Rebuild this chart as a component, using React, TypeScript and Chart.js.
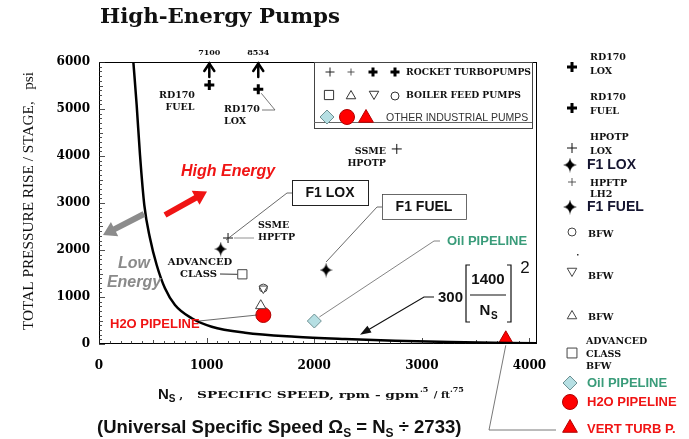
import React, { useEffect, useRef } from 'react';
import { Chart, registerables } from 'chart.js';
import { drawPoint } from 'chart.js/helpers';

Chart.register(...registerables);

// ---- data ----
// curve labelled 300*(1400/Ns)^2
const curveNs = [319, 350, 381, 421, 474, 536, 613, 706, 862, 1047, 1357, 1822, 2286, 2751, 3262, 4070];
const curvePsi = [6006, 5085, 4021, 2957, 2249, 1681, 1185, 830, 547, 368, 240, 155, 106, 70, 43, 15];

const xTicks = [0, 1000, 2000, 3000, 4000];
const yTicks = [0, 1000, 2000, 3000, 4000, 5000, 6000];

// rocket turbopumps
const rd170Ns = [1025, 1480];
const rd170Psi = [5510, 5420];
const rd170TrueLabels = ['7100', '8534'];
const ssmeNs = [2767, 1199];
const ssmePsi = [4150, 2255];
const f1Ns = [1131, 2110];
const f1Psi = [2021, 1574];
// boiler feed pumps
const advNs = [1332];
const advPsi = [1483];
const bfwCircleNs = [1527];
const bfwCirclePsi = [1190];
const bfwInvNs = [1527];
const bfwInvPsi = [1180];
const bfwTriNs = [1503];
const bfwTriPsi = [815];
// other industrial pumps
const h2oNs = [1527];
const h2oPsi = [617];
const oilNs = [2001];
const oilPsi = [489];
const vertNs = [3780];
const vertPsi = [100];

const pts = (xs: number[], ys: number[]) => xs.map((x, i) => ({ x, y: ys[i] }));

const SERIF = "'DejaVu Serif', serif";
const TSERIF = "'Liberation Serif', serif";
const SANS = "'Liberation Sans', Arial, sans-serif";
const RED = '#f01414';
const GREEN = '#3a9c7a';
const GRAYTXT = '#8a8a8a';
const DIAMOND_FILL = '#b6dfe3';
const DIAMOND_STROKE = '#6e9092';

function makeStar(w: number, h: number) {
  const c = document.createElement('canvas');
  c.width = w;
  c.height = h;
  const g = c.getContext('2d')!;
  const cx = w / 2, cy = h / 2, k = 1.3;
  g.fillStyle = '#000';
  g.beginPath();
  g.moveTo(cx, 0);
  g.quadraticCurveTo(cx + k * 0.6, cy - k * 0.6, w, cy);
  g.quadraticCurveTo(cx + k * 0.6, cy + k * 0.6, cx, h);
  g.quadraticCurveTo(cx - k * 0.6, cy + k * 0.6, 0, cy);
  g.quadraticCurveTo(cx - k * 0.6, cy - k * 0.6, cx, 0);
  g.closePath();
  g.fill();
  return c;
}

function text(ctx: CanvasRenderingContext2D, s: string, x: number, y: number, font: string, color = '#111', align: CanvasTextAlign = 'left', base: CanvasTextBaseline = 'middle') {
  ctx.font = font;
  ctx.fillStyle = color;
  ctx.textAlign = align;
  ctx.textBaseline = base;
  ctx.fillText(s, x, y);
}

function fit(ctx: CanvasRenderingContext2D, s: string, x: number, y: number, w: number, font: string, color = '#111', align: CanvasTextAlign = 'left', base: CanvasTextBaseline = 'middle') {
  ctx.font = font;
  const m = ctx.measureText(s).width;
  ctx.save();
  ctx.translate(x, y);
  ctx.scale(w / m, 1);
  text(ctx, s, 0, 0, font, color, align, base);
  ctx.restore();
}

function poly(ctx: CanvasRenderingContext2D, p: number[][], color = '#333', w = 1) {
  ctx.beginPath();
  ctx.moveTo(p[0][0], p[0][1]);
  for (let i = 1; i < p.length; i++) ctx.lineTo(p[i][0], p[i][1]);
  ctx.strokeStyle = color;
  ctx.lineWidth = w;
  ctx.stroke();
}

function thickArrow(ctx: CanvasRenderingContext2D, x0: number, y0: number, x1: number, y1: number, color: string, shaft: number, headLen: number, headHalf: number) {
  const dx = x1 - x0, dy = y1 - y0, L = Math.hypot(dx, dy);
  const ux = dx / L, uy = dy / L, px = -uy, py = ux;
  const bx = x1 - ux * headLen, by = y1 - uy * headLen;
  ctx.beginPath();
  ctx.moveTo(x0 + px * shaft / 2, y0 + py * shaft / 2);
  ctx.lineTo(bx + px * shaft / 2, by + py * shaft / 2);
  ctx.lineTo(bx + px * headHalf, by + py * headHalf);
  ctx.lineTo(x1, y1);
  ctx.lineTo(bx - px * headHalf, by - py * headHalf);
  ctx.lineTo(bx - px * shaft / 2, by - py * shaft / 2);
  ctx.lineTo(x0 - px * shaft / 2, y0 - py * shaft / 2);
  ctx.closePath();
  ctx.fillStyle = color;
  ctx.fill();
}

function sym(ctx: CanvasRenderingContext2D, style: any, x: number, y: number, r: number, fill: string, stroke: string, bw: number, rotation = 0) {
  ctx.save();
  ctx.fillStyle = fill;
  ctx.strokeStyle = stroke;
  ctx.lineWidth = bw;
  drawPoint(ctx, { pointStyle: style, rotation, radius: r, borderWidth: bw } as any, x, y);
  ctx.restore();
}

function seq(ctx: CanvasRenderingContext2D, parts: { t: string; font: string; dy?: number }[], x: number, y: number, color = '#111') {
  let cx = x;
  for (const p of parts) {
    text(ctx, p.t, cx, y + (p.dy || 0), p.font, color, 'left', 'alphabetic');
    cx += ctx.measureText(p.t).width;
  }
  return cx;
}

export default function App() {
  const ref = useRef<HTMLCanvasElement>(null);

  useEffect(() => {
    const canvas = ref.current!;
    const star = makeStar(14, 15);
    const starSmall = makeStar(13, 15);

    const framePlugin = {
      id: 'frame',
      beforeDatasetsDraw(chart: any) {
        const { ctx, chartArea: a, scales } = chart;
        const xs = scales.x, ys = scales.y;
        ctx.save();
        ctx.strokeStyle = '#000';
        ctx.lineWidth = 1;
        ctx.strokeRect(a.left + 0.5, a.top + 0.5, a.right - a.left - 1, a.bottom - a.top - 1);
        for (let v = 0; v <= 6000; v += 100) {
          const y = Math.round(ys.getPixelForValue(v)) + 0.5;
          const len = v % 1000 === 0 ? 6 : v % 500 === 0 ? 4 : 3;
          poly(ctx, [[a.left, y], [a.left + len, y]], '#222', 0.8);
        }
        for (let v = 0; v <= 4000; v += 100) {
          const x = Math.round(xs.getPixelForValue(v)) + 0.5;
          const len = v % 1000 === 0 ? 6 : v % 500 === 0 ? 4 : 3;
          poly(ctx, [[x, a.bottom], [x, a.bottom - len]], '#222', 0.8);
        }
        ctx.restore();
      },
    };

    const annotPlugin = {
      id: 'annot',
      afterDatasetsDraw(chart: any) {
        const { ctx, scales } = chart;
        const X = (v: number) => scales.x.getPixelForValue(v);
        const Y = (v: number) => scales.y.getPixelForValue(v);
        ctx.save();

        // title
        fit(ctx, 'High-Energy Pumps', 100, 23, 240, `bold 21px ${SERIF}`, '#111', 'left', 'alphabetic');

        // y title
        ctx.save();
        ctx.translate(29, 201);
        ctx.rotate(-Math.PI / 2);
        fit(ctx, 'TOTAL PRESSURE RISE / STAGE,   psi', 0, 0, 258, `14px ${TSERIF}`, '#111', 'center', 'middle');
        ctx.restore();

        // x title
        let cx = seq(ctx, [{ t: 'N', font: `bold 15px ${SANS}` }, { t: 'S', font: `bold 10px ${SANS}`, dy: 3 }, { t: ' ,', font: `bold 11px ${SERIF}` }], 158, 399);
        fit(ctx, 'SPECIFIC SPEED, rpm - gpm', 197, 398, 222, `bold 10px ${SERIF}`, '#111', 'left', 'alphabetic');
        cx = seq(ctx, [{ t: '.5', font: `bold 8px ${SERIF}`, dy: -6 }], 420, 398);
        cx = seq(ctx, [{ t: ' / ft', font: `bold 10px ${SERIF}` }], cx + 2, 398);
        seq(ctx, [{ t: '.75', font: `bold 8px ${SERIF}`, dy: -6 }], cx, 398);

        // bottom text
        seq(ctx, [
          { t: '(Universal Specific Speed \u03A9', font: `bold 18.5px ${SANS}` },
          { t: 'S', font: `bold 12px ${SANS}`, dy: 4 },
          { t: ' = N', font: `bold 18.5px ${SANS}` },
          { t: 'S', font: `bold 12px ${SANS}`, dy: 4 },
          { t: ' \u00F7 2733)', font: `bold 18.5px ${SANS}` },
        ], 97, 433);

        // off-scale arrows above RD170 points
        rd170Ns.forEach((n, i) => {
          const x = X(n);
          ctx.lineCap = 'round';
          poly(ctx, [[x, 77], [x, 64]], '#000', 2.5);
          poly(ctx, [[x - 5, 71], [x, 63.5], [x + 5, 71]], '#000', 2.5);
          ctx.lineCap = 'butt';
          text(ctx, rd170TrueLabels[i], x, 53, `bold 8px ${SERIF}`, '#111', 'center');
        });

        const sm = `bold 9.5px ${SERIF}`;
        text(ctx, 'RD170', 177, 96, sm, '#111', 'center');
        text(ctx, 'FUEL', 180, 108, sm, '#111', 'center');
        text(ctx, 'RD170', 224, 110, sm);
        text(ctx, 'LOX', 224, 122, sm);
        poly(ctx, [[262, 110], [275, 110], [X(rd170Ns[1]) + 3, Y(rd170Psi[1]) + 4]], '#555', 0.8);

        text(ctx, 'SSME', 386, 152, sm, '#111', 'right');
        text(ctx, 'HPOTP', 386, 164, sm, '#111', 'right');
        text(ctx, 'SSME', 258, 226, sm);
        text(ctx, 'HPFTP', 258, 238, sm);
        poly(ctx, [[X(ssmeNs[1]) + 6, Y(ssmePsi[1])], [254, 238]], '#777', 0.8);

        text(ctx, 'ADVANCED', 200, 262, `bold 10px ${SERIF}`, '#111', 'center');
        text(ctx, 'CLASS', 217, 274, `bold 10px ${SERIF}`, '#111', 'right');
        poly(ctx, [[220, 274], [X(advNs[0]) - 5, Y(advPsi[0])]], '#333', 1);

        // High / Low energy
        text(ctx, 'High Energy', 181, 172, `italic bold 16px ${SANS}`, RED);
        thickArrow(ctx, 165, 215, 207, 191.5, RED, 6, 13, 8);
        thickArrow(ctx, 144, 214, 103, 235, '#8c8c8c', 6, 13, 8);
        text(ctx, 'Low', 134, 264, `italic bold 16px ${SANS}`, GRAYTXT, 'center');
        text(ctx, 'Energy', 134, 283, `italic bold 16px ${SANS}`, GRAYTXT, 'center');

        // F1 LOX box
        ctx.strokeStyle = '#222';
        ctx.lineWidth = 1;
        ctx.strokeRect(292.5, 180.5, 76, 25);
        text(ctx, 'F1 LOX', 330, 193.5, `bold 14px ${SANS}`, '#111', 'center');
        poly(ctx, [[292, 193], [287, 193], [X(ssmeNs[1]) - 2, Y(ssmePsi[1]) + 2]], '#444', 0.8);

        // F1 FUEL box
        ctx.strokeRect(382.5, 194.5, 84, 25);
        text(ctx, 'F1 FUEL', 424, 207.5, `bold 14px ${SANS}`, '#111', 'center');
        poly(ctx, [[382, 207], [377, 207], [X(f1Ns[1]), Y(f1Psi[1]) - 8]], '#444', 0.8);

        // pipelines
        text(ctx, 'H2O PIPELINE', 110, 324, `bold 13px ${SANS}`, RED);
        poly(ctx, [[199, 321], [X(h2oNs[0]) - 6, Y(h2oPsi[0])]], '#444', 0.8);
        text(ctx, 'Oil PIPELINE', 447, 241, `bold 13px ${SANS}`, GREEN);
        poly(ctx, [[X(oilNs[0]) + 5, Y(oilPsi[0]) - 4], [434, 241], [440, 241]], '#666', 0.8);

        // vert turbine leader
        poly(ctx, [[X(vertNs[0]), Y(vertPsi[0]) + 6], [489, 430], [556, 430]], '#555', 0.8);

        // formula
        text(ctx, '300', 463, 298, `bold 15px ${SANS}`, '#111', 'right');
        text(ctx, '1400', 488, 280, `bold 15px ${SANS}`, '#111', 'center');
        poly(ctx, [[470, 295], [506, 295]], '#111', 1.2);
        text(ctx, 'N', 485, 311, `bold 15px ${SANS}`, '#111', 'center');
        text(ctx, 'S', 491, 316, `bold 10px ${SANS}`, '#111', 'left');
        poly(ctx, [[470, 265], [466, 265], [466, 322], [470, 322]], '#111', 1.2);
        poly(ctx, [[507, 265], [511, 265], [511, 322], [507, 322]], '#111', 1.2);
        text(ctx, '2', 525, 268, `17px ${SANS}`, '#111', 'center');
        poly(ctx, [[434, 297], [424, 297], [368, 330]], '#111', 1.2);
        thickArrow(ctx, 372, 327.6, 360, 334.7, '#111', 0, 11, 4);

        // inside legend box
        ctx.strokeStyle = '#444';
        ctx.lineWidth = 1;
        ctx.strokeRect(314.5, 62.5, 218, 66);
        poly(ctx, [[314, 122.5], [532, 122.5]], '#666', 1);
        sym(ctx, 'cross', 330, 72, 4.5, '#000', '#222', 1);
        sym(ctx, 'cross', 351, 72, 3.5, '#000', '#444', 0.9);
        sym(ctx, 'cross', 373, 72, 4.5, '#000', '#000', 3);
        sym(ctx, 'cross', 395, 72, 4.5, '#000', '#000', 3);
        fit(ctx, 'ROCKET TURBOPUMPS', 406, 72, 125, `bold 10px ${SERIF}`);
        sym(ctx, 'rect', 329, 95, 6.5, '#fff', '#333', 1);
        sym(ctx, 'triangle', 351, 96, 5.5, '#fff', '#333', 1);
        sym(ctx, 'triangle', 374, 94, 5.5, '#fff', '#333', 1, 180);
        sym(ctx, 'circle', 395, 96, 4, '#fff', '#333', 1);
        fit(ctx, 'BOILER FEED PUMPS', 406, 95, 115, `bold 10px ${SERIF}`);
        sym(ctx, 'rectRot', 327, 117, 7, DIAMOND_FILL, DIAMOND_STROKE, 1);
        sym(ctx, 'circle', 347, 117, 7.5, '#ff0000', '#b00000', 1);
        sym(ctx, 'triangle', 366, 118, 8.5, '#ff0000', '#b00000', 1);
        text(ctx, 'OTHER INDUSTRIAL PUMPS', 386, 118, `10.5px ${SANS}`, '#333');

        // right side legend
        sym(ctx, 'cross', 572, 67, 5, '#000', '#000', 3);
        text(ctx, 'RD170', 590, 58, sm);
        text(ctx, 'LOX', 590, 72, sm);
        sym(ctx, 'cross', 572, 108, 5, '#000', '#000', 3);
        text(ctx, 'RD170', 590, 98, sm);
        text(ctx, 'FUEL', 590, 112, sm);
        sym(ctx, 'cross', 572, 148, 5, '#000', '#111', 1);
        text(ctx, 'HPOTP', 590, 138, sm);
        text(ctx, 'LOX', 590, 152, sm);
        sym(ctx, star, 570, 165, 7, '#000', '#000', 0);
        text(ctx, 'F1 LOX', 587, 165, `bold 14px ${SANS}`, '#151530');
        sym(ctx, 'cross', 572, 182, 4, '#000', '#333', 0.8);
        text(ctx, 'HPFTP', 590, 184, sm);
        text(ctx, 'LH2', 590, 195, sm);
        sym(ctx, star, 570, 207, 7, '#000', '#000', 0);
        text(ctx, 'F1 FUEL', 587, 207, `bold 14px ${SANS}`, '#151530');
        sym(ctx, 'circle', 572, 232, 4, '#fff', '#444', 1);
        text(ctx, 'BFW', 588, 235, sm);
        ctx.fillStyle = '#333';
        ctx.fillRect(577, 254, 1.5, 1.5);
        sym(ctx, 'triangle', 572, 271, 5.5, '#fff', '#444', 1, 180);
        text(ctx, 'BFW', 588, 277, sm);
        sym(ctx, 'triangle', 572, 316, 5.5, '#fff', '#444', 1);
        text(ctx, 'BFW', 588, 318, sm);
        sym(ctx, 'rect', 572, 353, 7, '#fff', '#444', 1);
        text(ctx, 'ADVANCED', 586, 342, sm);
        text(ctx, 'CLASS', 586, 355, sm);
        text(ctx, 'BFW', 586, 367, sm);
        sym(ctx, 'rectRot', 570, 383, 7, DIAMOND_FILL, DIAMOND_STROKE, 1);
        text(ctx, 'Oil PIPELINE', 587, 383, `bold 13px ${SANS}`, GREEN);
        sym(ctx, 'circle', 570, 402, 7.5, '#ff0000', '#b00000', 1);
        text(ctx, 'H2O PIPELINE', 587, 402, `bold 13px ${SANS}`, RED);
        sym(ctx, 'triangle', 570, 428, 8.5, '#ff0000', '#b00000', 1);
        text(ctx, 'VERT TURB P.', 587, 429, `bold 13px ${SANS}`, RED);

        ctx.restore();
      },
    };

    const tickFont = { family: 'DejaVu Serif', weight: 'bold' as const, size: 12 };
    const plain = (v: any) => String(v);

    const chart = new Chart(canvas, {
      type: 'scatter',
      data: {
        datasets: [
          { data: pts(curveNs, curvePsi), showLine: true, borderColor: '#000', borderWidth: 2.5, pointRadius: 0, cubicInterpolationMode: 'monotone' } as any,
          { data: pts(rd170Ns, rd170Psi), pointStyle: 'cross', pointRadius: 5, pointBorderWidth: 3, pointBorderColor: '#000', pointBackgroundColor: '#000' },
          { data: pts(ssmeNs, ssmePsi), pointStyle: 'cross', pointRadius: 5, pointBorderWidth: 1, pointBorderColor: '#111', pointBackgroundColor: '#111' },
          { data: pts(f1Ns, f1Psi), pointStyle: starSmall as any, pointRadius: 7, pointBorderWidth: 0 },
          { data: pts(advNs, advPsi), pointStyle: 'rect', pointRadius: 6.5, pointBorderWidth: 1, pointBorderColor: '#444', pointBackgroundColor: '#fff' },
          { data: pts(bfwInvNs, bfwInvPsi), pointStyle: 'triangle', pointRotation: 180, pointRadius: 5, pointBorderWidth: 1, pointBorderColor: '#444', pointBackgroundColor: '#fff' },
          { data: pts(bfwCircleNs, bfwCirclePsi), pointStyle: 'circle', pointRadius: 4, pointBorderWidth: 1, pointBorderColor: '#444', pointBackgroundColor: 'rgba(255,255,255,0)' },
          { data: pts(bfwTriNs, bfwTriPsi), pointStyle: 'triangle', pointRadius: 6, pointBorderWidth: 1, pointBorderColor: '#444', pointBackgroundColor: '#fff' },
          { data: pts(h2oNs, h2oPsi), pointStyle: 'circle', pointRadius: 7.5, pointBorderWidth: 1, pointBorderColor: '#b00000', pointBackgroundColor: '#ff0000' },
          { data: pts(oilNs, oilPsi), pointStyle: 'rectRot', pointRadius: 7, pointBorderWidth: 1, pointBorderColor: DIAMOND_STROKE, pointBackgroundColor: DIAMOND_FILL },
          { data: pts(vertNs, vertPsi), pointStyle: 'triangle', pointRadius: 8.5, pointBorderWidth: 1, pointBorderColor: '#b00000', pointBackgroundColor: '#ff0000' },
        ],
      },
      options: {
        animation: false,
        responsive: false,
        events: [],
        layout: { padding: { top: 62, right: 152, left: 0, bottom: 0 } },
        plugins: { legend: { display: false }, tooltip: { enabled: false }, title: { display: false } },
        scales: {
          x: {
            type: 'linear',
            min: 0,
            max: 4070,
            grid: { display: false, drawTicks: false },
            border: { display: false },
            ticks: { font: tickFont, color: '#000', padding: 15, maxRotation: 0, autoSkip: false, callback: plain },
            afterBuildTicks: (s: any) => { s.ticks = xTicks.map((v) => ({ value: v })); },
            afterFit: (s: any) => { s.height = 95; },
          },
          y: {
            type: 'linear',
            min: 0,
            max: 6000,
            grid: { display: false, drawTicks: false },
            border: { display: false },
            ticks: { font: tickFont, color: '#000', padding: 9, autoSkip: false, callback: plain },
            afterBuildTicks: (s: any) => { s.ticks = yTicks.map((v) => ({ value: v })); },
            afterFit: (s: any) => { s.width = 99; },
          },
        },
      },
      plugins: [framePlugin, annotPlugin],
    });
    return () => chart.destroy();
  }, []);

  return (
    <div style={{ position: 'absolute', left: 0, top: 0, width: 689, height: 439, background: '#fff' }}>
      <canvas ref={ref} width={689} height={439} style={{ display: 'block', width: 689, height: 439 }} />
    </div>
  );
}
